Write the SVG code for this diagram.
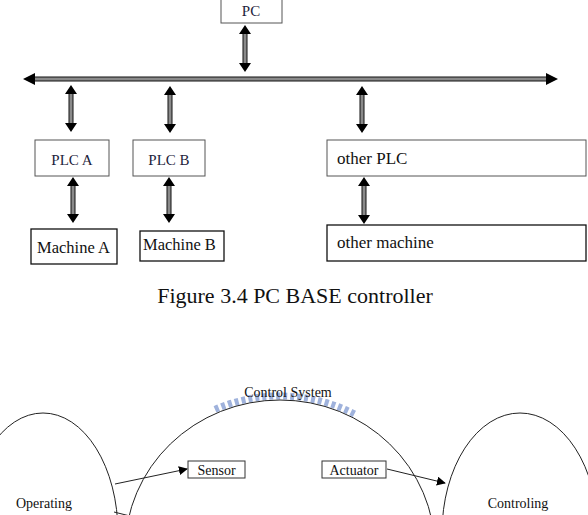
<svg xmlns="http://www.w3.org/2000/svg" width="588" height="515" viewBox="0 0 588 515">
<style>
.box{fill:#fff;stroke:#555;stroke-width:1}
.mbox{fill:#fff;stroke:#111;stroke-width:1.3}
.sbox{fill:#fff;stroke:#333;stroke-width:1}
.t{font-family:"Liberation Serif","Times New Roman",serif;fill:#111}
.tp{font-family:"Liberation Serif","Times New Roman",serif;fill:#1e1e3c;font-size:15px}
.shaft{fill:#8a8a8a;stroke:#111;stroke-width:1}
.head{fill:#000}
.ln{fill:none;stroke:#222;stroke-width:1}
</style>
<defs>
<marker id="ah" viewBox="0 0 10 10" refX="9" refY="5" markerWidth="9" markerHeight="9" markerUnits="userSpaceOnUse" orient="auto">
<path d="M0,0 L10,5 L0,10 Z" fill="#000"/>
</marker>
</defs>

<g id="pc"><rect class="box" x="221" y="-1" width="61" height="24"/><text class="tp" x="251" y="16" text-anchor="middle">PC</text></g>
<g id="plcA"><rect class="box" x="35" y="140" width="74" height="36"/><text class="tp" x="72" y="165" text-anchor="middle">PLC A</text></g>
<g id="plcB"><rect class="box" x="133" y="140" width="72" height="36"/><text class="tp" x="169" y="165" text-anchor="middle">PLC B</text></g>
<g id="otherPLC"><rect class="box" x="327" y="140" width="259" height="36"/><text class="t" x="337" y="164" font-size="17">other PLC</text></g>
<g id="machineA"><rect class="mbox" x="31" y="229" width="86" height="35"/><text class="t" x="37" y="253" font-size="16.5">Machine A</text></g>
<g id="machineB"><rect class="mbox" x="140" y="231" width="84" height="30"/><text class="t" x="143" y="250" font-size="16.5">Machine B</text></g>
<g id="otherMachine"><rect class="mbox" x="327" y="225" width="259" height="36"/><text class="t" x="337" y="248" font-size="17">other machine</text></g>

<g id="connectors">
<rect class="shaft" x="33" y="77" width="516" height="4"/>
<path class="head" d="M23,79 L35,73 L35,85 Z"/>
<path class="head" d="M558,79 L546,73 L546,85 Z"/>
<rect class="shaft" x="243" y="33" width="4" height="31"/>
<path class="head" d="M245,25 L239,34 L251,34 Z M245,72 L239,63 L251,63 Z"/>
<rect class="shaft" x="69" y="93" width="4" height="31"/>
<path class="head" d="M71,85 L65,94 L77,94 Z M71,132 L65,123 L77,123 Z"/>
<rect class="shaft" x="168" y="94" width="4" height="31"/>
<path class="head" d="M170,86 L164,95 L176,95 Z M170,133 L164,124 L176,124 Z"/>
<rect class="shaft" x="360" y="94" width="4" height="31"/>
<path class="head" d="M362,86 L356,95 L368,95 Z M362,133 L356,124 L368,124 Z"/>
<rect class="shaft" x="71" y="185" width="4" height="30"/>
<path class="head" d="M73,177 L67,186 L79,186 Z M73,223 L67,214 L79,214 Z"/>
<rect class="shaft" x="167" y="185" width="4" height="30"/>
<path class="head" d="M169,177 L163,186 L175,186 Z M169,223 L163,214 L175,214 Z"/>
<rect class="shaft" x="362" y="185" width="4" height="31"/>
<path class="head" d="M364,177 L358,186 L370,186 Z M364,224 L358,215 L370,215 Z"/>
</g>

<text class="t" x="295" y="303" font-size="22" text-anchor="middle">Figure 3.4 PC BASE controller</text>

<path d="M215,409.4 A159,154 0 0 1 355,414.2" fill="none" stroke="#9fb2dc" stroke-width="7" stroke-dasharray="4 3"/>
<g id="controlSystem">
<ellipse class="ln" cx="280" cy="550" rx="155" ry="150"/>
<text class="t" x="288" y="397" font-size="14" text-anchor="middle">Control System</text>
</g>
<g id="operating">
<ellipse class="ln" cx="43" cy="533" rx="75" ry="120"/>
<text class="t" x="44" y="508" font-size="14" text-anchor="middle">Operating</text>
</g>
<g id="controling">
<ellipse class="ln" cx="520" cy="533" rx="78" ry="120"/>
<text class="t" x="518" y="508" font-size="14" text-anchor="middle">Controling</text>
</g>
<g id="sensor"><rect class="sbox" x="188" y="461" width="57" height="17"/><text class="t" x="216.5" y="474.5" font-size="14" text-anchor="middle">Sensor</text></g>
<g id="actuator"><rect class="sbox" x="322" y="461" width="64" height="17"/><text class="t" x="354" y="474.5" font-size="14" text-anchor="middle">Actuator</text></g>
<g id="connectors2">
<line class="ln" x1="115" y1="484" x2="187" y2="469" marker-end="url(#ah)"/>
<line class="ln" x1="387" y1="469" x2="445" y2="483" marker-end="url(#ah)"/>
<line class="ln" x1="114" y1="512" x2="130" y2="516"/>
</g>
</svg>
